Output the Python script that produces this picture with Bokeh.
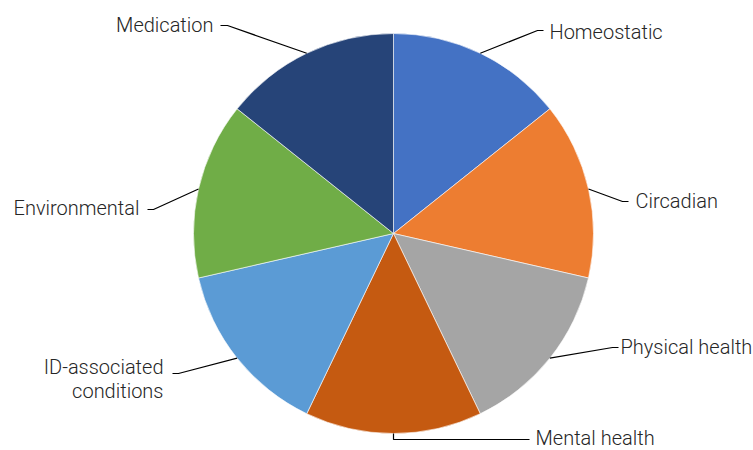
import math
from bokeh.plotting import figure
from bokeh.models import Range1d, ColumnDataSource
from bokeh.core.properties import value
from bokeh.embed import file_html
from bokeh.resources import INLINE

# ---- data ----
categories = ["Homeostatic", "Circadian", "Physical health", "Mental health",
              "ID-associated conditions", "Environmental", "Medication"]
values = [1, 1, 1, 1, 1, 1, 1]
colors = ["#4472C4", "#ED7D31", "#A5A5A5", "#C55A11", "#5B9BD5", "#70AD47", "#264478"]
label_lines = [["Homeostatic"], ["Circadian"], ["Physical health"], ["Mental health"],
               ["ID-associated", "conditions"], ["Environmental"], ["Medication"]]

# ---- layout (screen pixels of the 753x450 window) ----
W, H = 753, 450
CX, CY, R = 393, 233, 200
# per slice: elbow point, end of horizontal stub, text anchor x, text y (screen), align
label_layout = [
    ((537, 30), (543, 30), 549, 31, "left"),
    ((622, 201), (628, 201), 635, 200, "left"),
    ((612, 347), (618, 347), 620, 346, "left"),
    (None, (529, 439), 535, 437, "left"),
    ((178, 373), (172, 373), 163, 366, "right"),
    ((153, 209), (147, 209), 139, 207, "right"),
    ((227, 25), (220, 25), 213, 24, "right"),
]

def sy(y):  # screen y -> data y
    return H - y

p = figure(width=W, height=H, output_backend="svg", toolbar_location=None,
           x_range=Range1d(0, W), y_range=Range1d(0, H),
           min_border=0, outline_line_color=None)
p.axis.visible = False
p.grid.visible = False
p.background_fill_color = "white"
p.border_fill_color = "white"

total = float(sum(values))
starts, ends, mids = [], [], []
cum = 0.0
for v in values:
    a0 = math.pi / 2 - 2 * math.pi * cum / total
    cum += v
    a1 = math.pi / 2 - 2 * math.pi * cum / total
    starts.append(a0)
    ends.append(a1)
    mids.append((a0 + a1) / 2)

src = ColumnDataSource(dict(x=[CX] * len(values), y=[sy(CY)] * len(values),
                            start=starts, end=ends, color=colors, name=categories))
p.wedge(x="x", y="y", radius=R, start_angle="start", end_angle="end",
        direction="clock", fill_color="color", line_color="white", line_width=0.6,
        source=src)

font = value("Roboto Light")
for i, lines in enumerate(label_lines):
    elbow, stub, tx, ty, align = label_layout[i]
    ex = CX + R * math.cos(mids[i])
    ey = sy(CY) + R * math.sin(mids[i])
    if elbow is None:
        elbow_d = (ex, sy(stub[1]))
    else:
        elbow_d = (elbow[0], sy(elbow[1]))
    xs = [ex, elbow_d[0], stub[0]]
    ys = [ey, elbow_d[1], sy(stub[1])]
    p.line(xs, ys, line_color="#000000", line_width=1.2)
    for j, t in enumerate(lines):
        p.text(x=[tx], y=[sy(ty + 24 * j)], text=[t], text_font=font,
               text_font_size="20px", text_color="#262626",
               text_align=align, text_baseline="middle")

open("out.html", "w").write(file_html(p, INLINE))
